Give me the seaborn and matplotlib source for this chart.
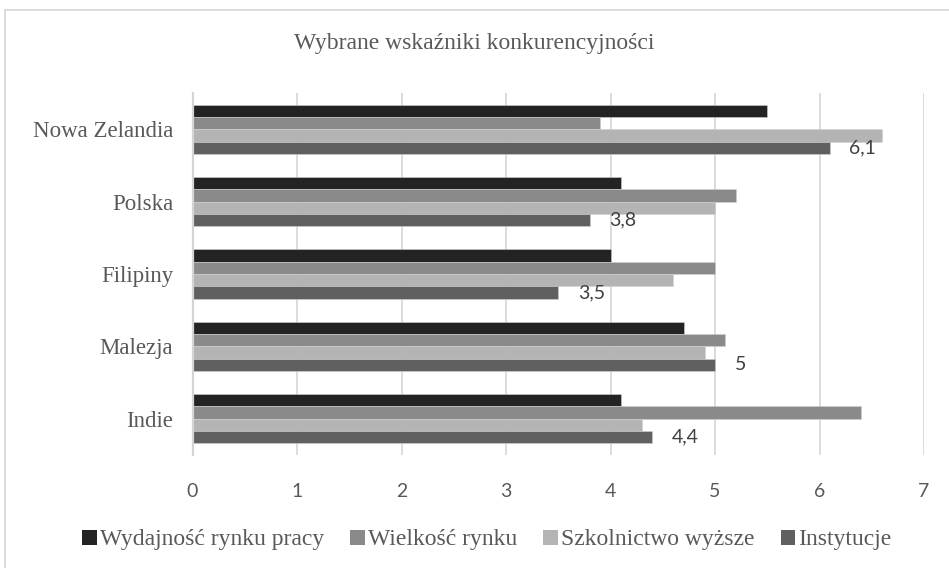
import pandas as pd
import seaborn as sns
import matplotlib.pyplot as plt
from matplotlib.patches import Patch, Rectangle
from matplotlib.font_manager import FontProperties

# Data
countries = ['Nowa Zelandia', 'Polska', 'Filipiny', 'Malezja', 'Indie']
series = ['Wydajność rynku pracy', 'Wielkość rynku', 'Szkolnictwo wyższe', 'Instytucje']
wydajnosc = [5.5, 4.1, 4.0, 4.7, 4.1]
wielkosc = [3.9, 5.2, 5.0, 5.1, 6.4]
szkolnictwo = [6.6, 5.0, 4.6, 4.9, 4.3]
instytucje = [6.1, 3.8, 3.5, 5.0, 4.4]
colors = ['#232323', '#8a8a8a', '#b4b4b4', '#606060']

df = pd.DataFrame({'kraj': countries,
                   series[0]: wydajnosc,
                   series[1]: wielkosc,
                   series[2]: szkolnictwo,
                   series[3]: instytucje})
df = df.melt(id_vars='kraj', var_name='seria', value_name='wartosc')

sns.set_theme(style='white')
serif = ['Liberation Serif', 'DejaVu Serif']
sans = ['Lato', 'DejaVu Sans']

fig = plt.figure(figsize=(9.49, 5.68), dpi=100)
ax = fig.add_axes([192.5 / 949, 1 - 455 / 568, (924 - 192.5) / 949, (455 - 93) / 568])

sns.barplot(data=df, x='wartosc', y='kraj', hue='seria', order=countries,
            hue_order=series, palette=colors, orient='h', width=0.68,
            edgecolor='#d0d0d0', linewidth=0.4, legend=False, ax=ax)

# labels only on the last series
inst = ax.containers[3]
ax.bar_label(inst, labels=[f'{v:g}'.replace('.', ',') for v in instytucje],
             padding=14, fontsize=14, color='#404040', family=sans)

ax.set_xlim(0, 7)
ax.set_ylim(4.5, -0.5)
ax.set_xticks(range(8))
ax.set_xlabel('')
ax.set_ylabel('')
ax.grid(axis='x', color='#d9d9d9', linewidth=1.3)
ax.set_axisbelow(True)
for s in ['top', 'right', 'bottom']:
    ax.spines[s].set_visible(False)
ax.spines['left'].set_color('#d4d4d4')
ax.spines['left'].set_linewidth(1.6)
ax.tick_params(axis='both', length=0)
ax.tick_params(axis='x', pad=20)
ax.tick_params(axis='y', pad=14)
for t in ax.get_xticklabels():
    t.set_family(sans)
    t.set_fontsize(14)
    t.set_color('#595959')
for t in ax.get_yticklabels():
    t.set_family(serif)
    t.set_fontsize(16.5)
    t.set_color('#595959')

fig.text(0.5, 1 - 43 / 568, 'Wybrane wskaźniki konkurencyjności', ha='center',
         va='center', fontsize=17, color='#595959', family=serif)

handles = [Patch(facecolor=c, edgecolor='none', label=l) for c, l in zip(colors, series)]
leg = fig.legend(handles=handles, loc='center', bbox_to_anchor=(487 / 949, 1 - 540 / 568),
                 ncol=4, frameon=False, handlelength=0.6, handleheight=0.6,
                 handletextpad=0.15, columnspacing=1.1,
                 prop=FontProperties(family=serif, size=17))
for t in leg.get_texts():
    t.set_color('#595959')

# chart border
fig.patches.append(Rectangle((5 / 949, -0.1), 1.2, 1.1 - 10 / 568, transform=fig.transFigure,
                             fill=False, edgecolor='#d9d9d9', linewidth=1.3))

fig.savefig('out.png', dpi=100)
